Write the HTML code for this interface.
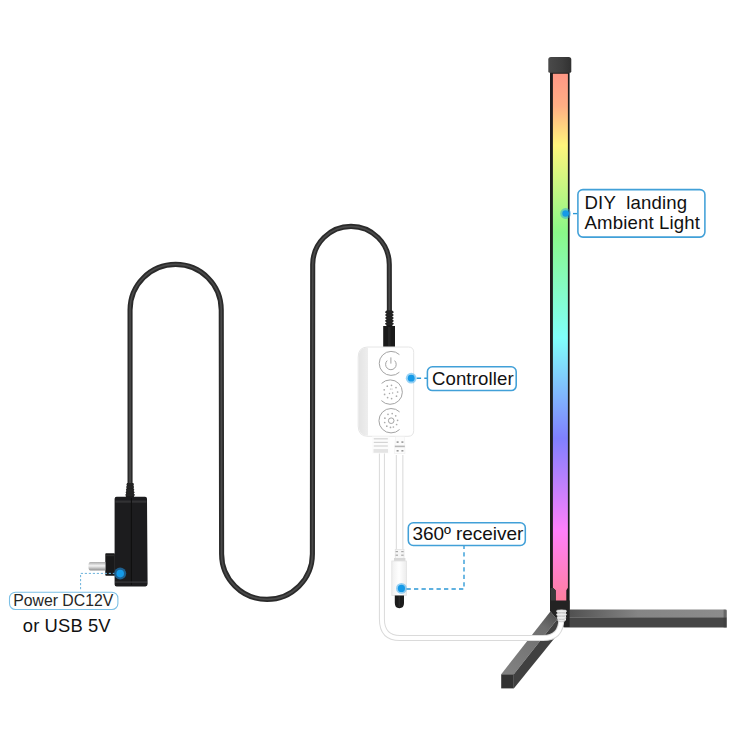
<!DOCTYPE html>
<html><head><meta charset="utf-8">
<style>
html,body{margin:0;padding:0;background:#fff;}
body{width:750px;height:750px;overflow:hidden;position:relative;}
svg{position:absolute;left:0;top:0;}
text{font-family:"Liberation Sans",sans-serif;}
</style></head>
<body>
<svg width="750" height="750" viewBox="0 0 750 750">
<defs>
  <linearGradient id="rgb" x1="0" y1="74" x2="0" y2="602" gradientUnits="userSpaceOnUse">
    <stop offset="0" stop-color="#ff9886"/>
    <stop offset="0.06" stop-color="#ffae84"/>
    <stop offset="0.135" stop-color="#fff57c"/>
    <stop offset="0.30" stop-color="#8af888"/>
    <stop offset="0.50" stop-color="#80fffa"/>
    <stop offset="0.69" stop-color="#8080ff"/>
    <stop offset="0.865" stop-color="#ff80fa"/>
    <stop offset="1" stop-color="#ff7f9c"/>
  </linearGradient>
  <linearGradient id="capg" x1="0" y1="0" x2="1" y2="0">
    <stop offset="0" stop-color="#4a4a4a"/>
    <stop offset="0.6" stop-color="#3e3e3e"/>
    <stop offset="1" stop-color="#313131"/>
  </linearGradient>
  <linearGradient id="ping" x1="0" y1="0" x2="0" y2="1">
    <stop offset="0" stop-color="#a8a8a8"/>
    <stop offset="0.45" stop-color="#f4f4f4"/>
    <stop offset="1" stop-color="#8c8c8c"/>
  </linearGradient>
  <linearGradient id="sideg" x1="0" y1="0" x2="1" y2="0">
    <stop offset="0" stop-color="#e4e4e4"/>
    <stop offset="1" stop-color="#eeeeee"/>
  </linearGradient>
  <linearGradient id="rleg" x1="566" y1="0" x2="726" y2="0" gradientUnits="userSpaceOnUse">
    <stop offset="0" stop-color="#4e4e4e"/>
    <stop offset="0.45" stop-color="#858585"/>
    <stop offset="1" stop-color="#8c8c8c"/>
  </linearGradient>
  <linearGradient id="dleg" x1="552" y1="612" x2="505" y2="674" gradientUnits="userSpaceOnUse">
    <stop offset="0" stop-color="#505050"/>
    <stop offset="0.22" stop-color="#6e6e6e"/>
    <stop offset="1" stop-color="#828282"/>
  </linearGradient>
  <radialGradient id="dot">
    <stop offset="0" stop-color="#1496e6"/>
    <stop offset="0.5" stop-color="#1a9be6"/>
    <stop offset="0.7" stop-color="#6dbdec"/>
    <stop offset="1" stop-color="#b8def4" stop-opacity="0"/>
  </radialGradient>
</defs>

<!-- ===== black cable ===== -->
<path d="M130.05 486 L130.05 310 A45.6 45.6 0 0 1 221.25 310 L221.6 554 A45.4 45.4 0 0 0 312.4 554 L312.7 264.6 A38.3 38.3 0 0 1 389.3 264.6 L389.4 312" fill="none" stroke="#2a2a2a" stroke-width="5.1"/>
<path d="M130.05 486 L130.05 310 A45.6 45.6 0 0 1 221.25 310 L221.6 554 A45.4 45.4 0 0 0 312.4 554 L312.7 264.6 A38.3 38.3 0 0 1 389.3 264.6 L389.4 312" fill="none" stroke="#4a4a4a" stroke-width="1.7"/>

<!-- adapter strain relief -->
<polygon points="127,483 133.4,483 134,497 125.8,497" fill="#1c1c1c"/>
<g fill="#242424">
  <ellipse cx="130.1" cy="484.4" rx="3.6" ry="1.3"/>
  <ellipse cx="130.1" cy="487.1" rx="3.9" ry="1.3"/>
  <ellipse cx="130.1" cy="489.8" rx="4.2" ry="1.3"/>
  <ellipse cx="130.1" cy="492.4" rx="4.5" ry="1.3"/>
  <ellipse cx="130.1" cy="494.9" rx="4.8" ry="1.3"/>
</g>
<!-- adapter body -->
<path d="M116.6 496.8 L145 496.8 Q147 496.8 147 498.8 L147.6 584 Q147.6 586.4 145.4 586.4 L116.6 586.4 Q114.6 586.4 114.6 584.4 L114.6 498.8 Q114.6 496.8 116.6 496.8 Z" fill="#1c1c1e"/>
<rect x="115.4" y="500.5" width="31" height="2.2" fill="#38383a" opacity="0.8"/>
<line x1="131.4" y1="498" x2="131.4" y2="585" stroke="#0e0e0e" stroke-width="1"/>
<rect x="115" y="581.5" width="32" height="1.2" fill="#3a3a3c"/>
<!-- plug -->
<rect x="105.3" y="553.2" width="9.6" height="22.5" rx="0.8" fill="#19191a"/>
<rect x="106" y="555" width="8" height="1.2" fill="#2c2c2c"/>
<path d="M90.5 561.9 L105.4 561.9 L105.4 570.6 L90.5 570.6 Q88.4 570.6 88.4 566.25 Q88.4 561.9 90.5 561.9 Z" fill="url(#ping)"/>

<!-- controller top connector -->
<rect x="386.4" y="310.5" width="6" height="16" fill="#1a1a1a"/>
<g fill="#222">
  <ellipse cx="389.4" cy="312.2" rx="4.3" ry="1.35"/>
  <ellipse cx="389.4" cy="315.1" rx="4.3" ry="1.35"/>
  <ellipse cx="389.4" cy="318" rx="4.3" ry="1.35"/>
  <ellipse cx="389.4" cy="320.9" rx="4.3" ry="1.35"/>
  <ellipse cx="389.4" cy="323.8" rx="4.4" ry="1.35"/>
</g>
<rect x="383.2" y="326" width="11.8" height="21" fill="#1a1a1a"/>
<rect x="388" y="327" width="2.5" height="19" fill="#262626"/>

<!-- ===== lamp bar ===== -->
<rect x="550" y="72" width="19.6" height="539" fill="#1c1c1c"/>
<path d="M552.9 73.8 L567.9 73.8 L567.9 587.7 L566.3 590.3 L566.3 601.7 L555.7 601.7 L555.7 590.3 L552.9 587.7 Z" fill="url(#rgb)"/>
<polygon points="550.6,588 552.9,588 555.7,590.5 555.7,602 566.3,602 566.3,609.5 550.6,609.5" fill="#3a3a3a"/>
<rect x="555.7" y="602" width="12" height="7.5" fill="#262626"/>
<path d="M550.9 56.9 L568.7 56.9 Q571.3 56.9 571.3 59.5 L571.3 71.3 Q571.3 72.8 569.8 72.8 L549.8 72.8 Q548.3 72.8 548.3 71.3 L548.3 59.5 Q548.3 56.9 550.9 56.9 Z" fill="url(#capg)"/>

<!-- base: right leg -->
<polygon points="566,609.4 725.5,609.4 726.7,610.6 726.7,617.2 566,617.2" fill="url(#rleg)"/>
<polygon points="566,617.2 726.7,617.2 726.7,627.6 564,627.6" fill="#464646"/>
<rect x="723.6" y="609.6" width="3.1" height="18" fill="#3a3a3a" opacity="0.45"/>
<!-- diagonal leg -->
<polygon points="501.2,674.3 513.8,674.3 557,619.5 550.4,611.4" fill="url(#dleg)"/>
<polygon points="513.8,674.3 513.8,688.4 563.6,627 557,619.5" fill="#404040"/>
<rect x="501.2" y="674.3" width="12.6" height="14.1" fill="#323232"/>
<polygon points="550,600.5 569.6,600.5 569.6,627 563.6,627 557,619.5 550.4,611.4" fill="#232323"/>

<!-- ===== white cables ===== -->
<path d="M381.9 453 L381.9 619 Q381.9 638 400 638 L543 638 Q561.3 638 561.3 619" fill="none" stroke="#dadada" stroke-width="6"/>
<path d="M381.9 453 L381.9 619 Q381.9 638 400 638 L543 638 Q561.3 638 561.3 619" fill="none" stroke="#ffffff" stroke-width="4"/>
<path d="M399.6 455 L399.6 552" fill="none" stroke="#dcdcdc" stroke-width="7.6"/>
<path d="M399.6 455 L399.6 552" fill="none" stroke="#fff" stroke-width="5.4"/>
<!-- lamp connector -->
<rect x="557.5" y="610" width="8.5" height="10.5" fill="#efefef"/>
<g fill="#ededed" stroke="#b8b8b8" stroke-width="0.6">
  <ellipse cx="561.5" cy="611.2" rx="5.2" ry="1.5"/>
  <ellipse cx="561.5" cy="614.5" rx="5.2" ry="1.5"/>
  <ellipse cx="561.5" cy="617.8" rx="4.7" ry="1.5"/>
  <ellipse cx="561.5" cy="620.6" rx="3.6" ry="1.2"/>
</g>

<!-- ===== controller body ===== -->
<path d="M368 347 L408.5 347 Q413.7 347 413.7 352.5 L413.7 430.5 Q413.7 436.3 408 436.3 L368 436.3 Q358.2 436.3 358.2 426 L358.2 357 Q358.2 347 368 347 Z" fill="#fff" stroke="#e6e6e6" stroke-width="1"/>
<path d="M368 347.6 L368 435.8 Q358.7 435.8 358.7 426 L358.7 357 Q358.7 347.6 368 347.6 Z" fill="url(#sideg)"/>
<!-- buttons -->
<g fill="none" stroke="#a4a4a4" stroke-width="1">
  <path d="M399.4 354.6 A12 12 0 1 0 399.4 372.2"/>
  <path d="M381.6 383.4 A12.2 12.2 0 1 1 381.4 400.6"/>
  <path d="M399.6 411.9 A12.2 12.2 0 1 0 399.6 429.5"/>
  <path d="M390.9 357.4 L390.9 363.6"/>
  <path d="M387.2 360.6 A5.3 5.3 0 1 0 394.6 360.6"/>
  <circle cx="391.2" cy="420.7" r="2.8"/>
</g>
<g fill="#ababab">
  <circle cx="387.3" cy="386.2" r="0.85"/><circle cx="391.5" cy="385.3" r="0.85"/><circle cx="396" cy="387.6" r="0.85"/>
  <circle cx="384.2" cy="389.8" r="0.85"/><circle cx="397.6" cy="392" r="0.85"/><circle cx="384.6" cy="394.4" r="0.85"/>
  <circle cx="396.5" cy="396.2" r="0.85"/><circle cx="387.6" cy="397.6" r="0.85"/><circle cx="391.6" cy="398.6" r="0.85"/>
  <circle cx="389.5" cy="393.5" r="0.75"/><circle cx="392.6" cy="393" r="0.75"/><circle cx="390.4" cy="389" r="0.6"/><circle cx="392" cy="389" r="0.6"/>
  <circle cx="388" cy="414.3" r="0.85"/><circle cx="392.2" cy="413.6" r="0.85"/><circle cx="395.7" cy="415.8" r="0.85"/>
  <circle cx="384.9" cy="418.2" r="0.85"/><circle cx="397.6" cy="420.3" r="0.85"/><circle cx="384.7" cy="422.5" r="0.85"/>
  <circle cx="396.6" cy="424.5" r="0.85"/><circle cx="386.8" cy="426.2" r="0.85"/><circle cx="390.5" cy="427.4" r="0.85"/><circle cx="393.4" cy="427" r="0.85"/>
</g>
<!-- bottom connectors -->
<rect x="372" y="436.5" width="17.5" height="17" fill="#fcfcfc"/>
<g stroke="#d4d4d4" stroke-width="1.2">
  <line x1="373.8" y1="438.8" x2="387.8" y2="438.8"/><line x1="373.8" y1="442.4" x2="387.8" y2="442.4"/>
  <line x1="373.8" y1="446" x2="387.8" y2="446"/>
</g>
<rect x="373.5" y="449" width="14.5" height="3.8" fill="#e4e4e4"/>
<polygon points="395.6,436.5 404.4,436.5 405,453.5 394.4,453.5" fill="#fcfcfc" stroke="#eeeeee" stroke-width="0.6"/>
<g fill="#9a9a9a">
  <rect x="396.6" y="441.3" width="2" height="1.6"/><rect x="401.4" y="441.3" width="2" height="1.6"/>
  <rect x="396.6" y="450" width="2" height="1.6"/><rect x="401.4" y="450" width="2" height="1.6"/>
</g>
<rect x="394.8" y="445.6" width="10" height="1.6" fill="#b8b8b8"/>

<!-- receiver -->
<rect x="395.2" y="549.5" width="8.8" height="10" fill="#f6f6f6" stroke="#e0e0e0" stroke-width="0.7"/>
<g fill="#a8a8a8">
  <rect x="395.6" y="551" width="2.4" height="1.2"/><rect x="401.2" y="551" width="2.4" height="1.2"/>
  <rect x="395.6" y="554.6" width="2.4" height="1.2"/><rect x="401.2" y="554.6" width="2.4" height="1.2"/>
</g>
<rect x="394" y="558" width="11.4" height="3" fill="#d8d8d8"/>
<defs><linearGradient id="recg" x1="0" y1="0" x2="1" y2="0">
  <stop offset="0" stop-color="#f0f0f0"/><stop offset="0.5" stop-color="#ffffff"/><stop offset="1" stop-color="#ececec"/>
</linearGradient></defs>
<rect x="391.8" y="561" width="14.6" height="34.4" fill="url(#recg)" stroke="#e2e2e2" stroke-width="0.8"/>
<path d="M394.8 595.5 L404 595.5 L404 603 Q404 608.2 399.4 608.2 Q394.8 608.2 394.8 603 Z" fill="#1c1c1c"/>
<rect x="398.6" y="596" width="1.2" height="11" fill="#2e2e2e"/>

<!-- ===== callouts ===== -->
<g fill="none" stroke="#2b98d6" stroke-width="1.35" stroke-dasharray="4.3 3.2">
  <path d="M573 213.6 L578 213.6"/>
  <path d="M416.8 378.2 L427.5 378.2"/>
  <path d="M406.5 589 L464 589 L464 546"/>
</g>
<path d="M115 573.4 L80.6 573.4 L80.6 589.5" fill="none" stroke="#6db3dc" stroke-width="1" stroke-dasharray="2.2 1.8"/>
<g fill="#1a9ce8" opacity="0.45">
  <circle cx="565.6" cy="213.5" r="5.4"/><circle cx="411.2" cy="378.2" r="5.4"/>
  <circle cx="401.4" cy="588.4" r="5.4"/>
</g>
<circle cx="120.2" cy="573.6" r="6" fill="#1d5f8e"/>
<g fill="#159ae8">
  <circle cx="565.6" cy="213.5" r="3.3"/><circle cx="411.2" cy="378.2" r="3.4"/>
  <circle cx="401.4" cy="588.4" r="3.6"/><circle cx="120.2" cy="573.6" r="3.8"/>
</g>
<g fill="#fff" stroke="#41a0d8" stroke-width="1.55">
  <rect x="577.9" y="189.6" width="127" height="47.5" rx="5"/>
  <rect x="427.4" y="366.8" width="88.8" height="23.8" rx="5"/>
  <rect x="408.3" y="522.8" width="117" height="22.7" rx="5"/>
</g>
<rect x="9.5" y="592.2" width="108.4" height="17.3" rx="6" fill="#fff" stroke="#7cc0e6" stroke-width="1.1"/>

<g fill="#111" font-size="18.6">
  <text x="584.5" y="208.8" xml:space="preserve" letter-spacing="0.15" style="white-space:pre">DIY  landing</text>
  <text x="584.5" y="229.4" letter-spacing="0.15">Ambient Light</text>
  <text x="431.9" y="385.3" letter-spacing="0.12">Controller</text>
</g>
<text x="412.4" y="540.4" font-size="19" fill="#111" letter-spacing="-0.05">360º receiver</text>
<text x="13.2" y="606.1" font-size="15.8" fill="#262626">Power DC12V</text>
<text x="22.8" y="631.6" font-size="18.4" fill="#111" letter-spacing="0.12">or USB 5V</text>
</svg>
</body></html>
